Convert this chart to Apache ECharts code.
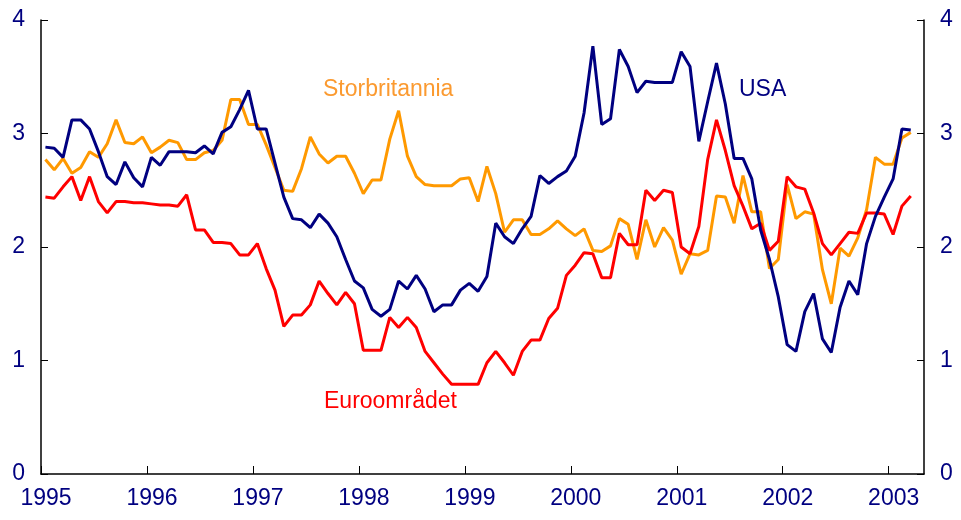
<!DOCTYPE html>
<html>
<head>
<meta charset="utf-8">
<script src="https://cdn.jsdelivr.net/npm/echarts@6/dist/echarts.min.js"></script>
<style>
  html, body { margin: 0; padding: 0; background: #fff; }
  #chart { width: 961px; height: 520px; }
</style>
</head>
<body>
<div id="chart"></div>
<script>
// månedlige tall, jan 1995 - mars 2003
const startYear = 1995;
const endYear = 2003 + 4 / 12;

const usa = [
  2.88, 2.87, 2.79, 3.12, 3.12, 3.04, 2.84, 2.62, 2.55, 2.75, 2.61, 2.53,
  2.79, 2.72, 2.84, 2.84, 2.84, 2.83, 2.89, 2.82, 3.01, 3.06, 3.21, 3.38,
  3.04, 3.04, 2.74, 2.44, 2.25, 2.24, 2.17, 2.29, 2.21, 2.09, 1.89, 1.70,
  1.64, 1.45, 1.39, 1.45, 1.70, 1.63, 1.75, 1.63, 1.43, 1.49, 1.49, 1.62,
  1.68, 1.61, 1.74, 2.21, 2.09, 2.03, 2.16, 2.27, 2.63, 2.56, 2.62, 2.67,
  2.80, 3.18, 3.77, 3.08, 3.13, 3.74, 3.59, 3.36, 3.46, 3.45, 3.45, 3.45,
  3.72, 3.59, 2.93, 3.28, 3.62, 3.26, 2.78, 2.78, 2.60, 2.15, 1.89, 1.56,
  1.14, 1.08, 1.43, 1.59, 1.19, 1.07, 1.47, 1.70, 1.58, 2.03, 2.27, 2.44,
  2.60, 3.04, 3.03
];

const storbritannia = [
  2.77, 2.68, 2.78, 2.65, 2.70, 2.84, 2.79, 2.91, 3.12, 2.92, 2.91, 2.97,
  2.83, 2.88, 2.94, 2.92, 2.77, 2.77, 2.83, 2.85, 2.94, 3.30, 3.30, 3.08,
  3.08, 2.90, 2.70, 2.50, 2.49, 2.69, 2.97, 2.82, 2.74, 2.80, 2.80, 2.65,
  2.47, 2.59, 2.59, 2.95, 3.20, 2.80, 2.62, 2.55, 2.54, 2.54, 2.54, 2.60,
  2.61, 2.40, 2.71, 2.47, 2.13, 2.24, 2.24, 2.11, 2.11, 2.16, 2.23, 2.16,
  2.10, 2.16, 1.97, 1.96, 2.01, 2.25, 2.20, 1.89, 2.24, 2.00, 2.17, 2.06,
  1.76, 1.94, 1.93, 1.97, 2.45, 2.44, 2.21, 2.63, 2.31, 2.31, 1.81, 1.89,
  2.55, 2.25, 2.31, 2.29, 1.80, 1.50, 1.99, 1.92, 2.08, 2.33, 2.79, 2.73,
  2.73, 2.96, 3.01
];

const euroomradet = [
  2.44, 2.43, 2.53, 2.62, 2.41, 2.62, 2.40, 2.30, 2.40, 2.40, 2.39, 2.39,
  2.38, 2.37, 2.37, 2.36, 2.46, 2.15, 2.15, 2.04, 2.04, 2.03, 1.93, 1.93,
  2.03, 1.81, 1.62, 1.30, 1.40, 1.40, 1.49, 1.70, 1.59, 1.49, 1.60, 1.50,
  1.09, 1.09, 1.09, 1.38, 1.29, 1.38, 1.29, 1.08, 0.98, 0.88, 0.79, 0.79,
  0.79, 0.79, 0.98, 1.08, 0.98, 0.87, 1.08, 1.18, 1.18, 1.37, 1.46, 1.75,
  1.84, 1.95, 1.94, 1.73, 1.73, 2.12, 2.02, 2.02, 2.50, 2.41, 2.50, 2.48,
  2.00, 1.94, 2.18, 2.77, 3.12, 2.85, 2.54, 2.36, 2.16, 2.21, 1.97, 2.05,
  2.62, 2.53, 2.51, 2.30, 2.03, 1.93, 2.03, 2.13, 2.12, 2.30, 2.30, 2.29,
  2.11, 2.36, 2.45
];

const navy = '#000080';
const orange = '#ff9900';
const red = '#ff0000';
const font = '"Liberation Sans", Arial, sans-serif';

// punkt midt i måneden
function toPoints(values) {
  return values.map((v, i) => [startYear + (i + 0.5) / 12, v]);
}

function yAxis(pos) {
  return {
    type: 'value',
    position: pos,
    min: 0,
    max: 4,
    interval: 1,
    splitLine: { show: false },
    axisLine: { show: true, lineStyle: { color: '#000', width: 1.5 } },
    axisTick: { show: true, inside: true, length: 7, lineStyle: { color: '#000' } },
    axisLabel: { color: navy, fontSize: 23, fontFamily: font, margin: 16 }
  };
}

const chart = echarts.init(document.getElementById('chart'));

chart.setOption({
  animation: false,
  backgroundColor: '#fff',
  grid: { left: 41, right: 37, top: 20, bottom: 46 },
  xAxis: {
    type: 'value',
    min: startYear,
    max: endYear,
    interval: 1,
    splitLine: { show: false },
    axisLine: { lineStyle: { color: '#000', width: 1.5 } },
    axisTick: { inside: true, length: 8, lineStyle: { color: '#000' } },
    axisLabel: {
      color: navy,
      fontSize: 23,
      fontFamily: font,
      margin: 13,
      padding: [0, 0, 0, 10],
      showMaxLabel: false,
      formatter: v => String(Math.round(v))
    }
  },
  yAxis: [yAxis('left'), yAxis('right')],
  series: [
    {
      name: 'Storbritannia',
      type: 'line',
      data: toPoints(storbritannia),
      showSymbol: false,
      lineStyle: { color: orange, width: 3 },
      itemStyle: { color: orange }
    },
    {
      name: 'Euroområdet',
      type: 'line',
      data: toPoints(euroomradet),
      showSymbol: false,
      lineStyle: { color: red, width: 3 },
      itemStyle: { color: red }
    },
    {
      name: 'USA',
      type: 'line',
      data: toPoints(usa),
      showSymbol: false,
      lineStyle: { color: navy, width: 3 },
      itemStyle: { color: navy }
    }
  ],
  graphic: [
    {
      type: 'text',
      style: { x: 323, y: 90, text: 'Storbritannia', fill: '#fb9a30',
        font: '23px ' + font, verticalAlign: 'middle' }
    },
    {
      type: 'text',
      style: { x: 739, y: 90, text: 'USA', fill: navy,
        font: '23px ' + font, verticalAlign: 'middle' }
    },
    {
      type: 'text',
      style: { x: 324, y: 402, text: 'Euroområdet', fill: red,
        font: '23px ' + font, verticalAlign: 'middle' }
    }
  ]
});
</script>
</body>
</html>
